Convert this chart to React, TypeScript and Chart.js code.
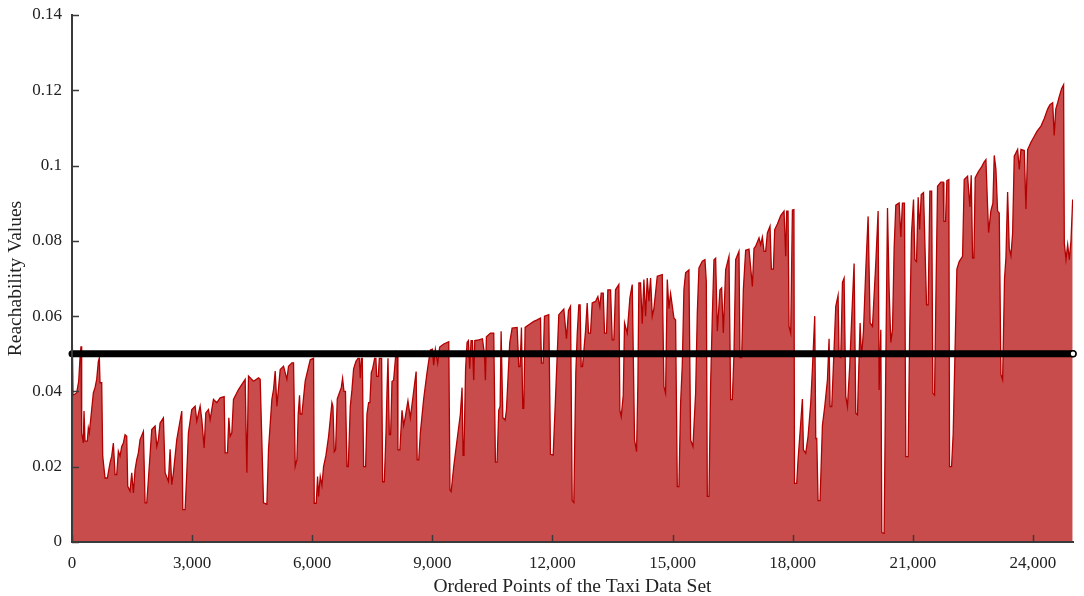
import React, { useEffect, useRef } from "react";
import { Chart, registerables } from "chart.js";

Chart.register(...registerables);

// Ordered point index (x) and reachability value (y)
const reachX = [
  0, 25, 117, 167, 200, 225, 242, 283, 300, 325, 383, 408, 433, 492, 533, 575, 617, 658, 683, 700,
  742, 767, 825, 883, 950, 992, 1033, 1075, 1117, 1158, 1200, 1242, 1283, 1325, 1367, 1392, 1450, 1492, 1533, 1575,
  1617, 1658, 1700, 1783, 1825, 1867, 1908, 1992, 2075, 2117, 2158, 2200, 2283, 2325, 2408, 2450, 2492, 2533, 2617, 2742,
  2767, 2825, 2867, 2908, 2992, 3075, 3117, 3200, 3242, 3300, 3342, 3408, 3450, 3533, 3617, 3700, 3800, 3825, 3883, 3917,
  3950, 3992, 4033, 4158, 4325, 4367, 4408, 4533, 4658, 4700, 4783, 4867, 4908, 4992, 5033, 5075, 5117, 5200, 5283, 5367,
  5408, 5492, 5533, 5575, 5617, 5650, 5683, 5700, 5742, 5825, 5950, 6033, 6050, 6100, 6133, 6158, 6200, 6242, 6283, 6342,
  6408, 6492, 6517, 6550, 6583, 6625, 6675, 6725, 6758, 6792, 6830, 6867, 6900, 6950, 6992, 7033, 7092, 7142, 7175, 7200,
  7225, 7250, 7283, 7333, 7367, 7408, 7440, 7475, 7508, 7558, 7590, 7608, 7650, 7675, 7733, 7758, 7800, 7842, 7867, 7892,
  7925, 7958, 7992, 8033, 8092, 8120, 8140, 8190, 8242, 8283, 8320, 8390, 8450, 8510, 8595, 8620, 8660, 8700, 8783, 8867,
  8950, 9000, 9033, 9075, 9133, 9183, 9283, 9410, 9440, 9470, 9533, 9617, 9700, 9742, 9767, 9790, 9830, 9867, 9900, 9933,
  9967, 10000, 10033, 10060, 10158, 10250, 10300, 10325, 10350, 10450, 10533, 10575, 10617, 10658, 10692, 10717, 10760, 10817, 10850, 10933,
  10992, 11117, 11158, 11192, 11225, 11258, 11283, 11317, 11408, 11533, 11617, 11700, 11725, 11767, 11800, 11908, 11950, 12017, 12075, 12158,
  12283, 12350, 12400, 12450, 12492, 12533, 12583, 12617, 12658, 12690, 12717, 12750, 12825, 12867, 12900, 12950, 12992, 13075, 13133, 13183,
  13217, 13267, 13300, 13350, 13383, 13450, 13492, 13533, 13575, 13658, 13683, 13717, 13767, 13800, 13867, 13933, 13992, 14050, 14100, 14133,
  14158, 14200, 14242, 14283, 14325, 14367, 14408, 14450, 14492, 14533, 14617, 14742, 14783, 14825, 14867, 14908, 14950, 15033, 15075, 15117,
  15158, 15200, 15242, 15283, 15325, 15408, 15450, 15508, 15575, 15617, 15658, 15742, 15808, 15842, 15867, 15908, 15950, 15992, 16033, 16075,
  16117, 16183, 16225, 16267, 16325, 16408, 16450, 16492, 16533, 16575, 16658, 16683, 16725, 16767, 16825, 16908, 16992, 17033, 17075, 17158,
  17200, 17242, 17283, 17325, 17367, 17433, 17467, 17517, 17550, 17617, 17700, 17783, 17825, 17850, 17883, 17908, 17950, 17992, 18030, 18045,
  18100, 18133, 18200, 18242, 18267, 18325, 18383, 18450, 18492, 18550, 18575, 18600, 18633, 18683, 18742, 18800, 18867, 18908, 18933, 18975,
  19017, 19075, 19133, 19158, 19200, 19242, 19283, 19325, 19367, 19425, 19467, 19533, 19575, 19617, 19683, 19717, 19767, 19825, 19883, 19933,
  19992, 20075, 20133, 20158, 20200, 20225, 20283, 20325, 20367, 20408, 20450, 20492, 20533, 20575, 20658, 20700, 20740, 20790, 20825, 20883,
  20920, 20967, 21017, 21050, 21092, 21133, 21170, 21210, 21267, 21342, 21383, 21425, 21470, 21500, 21542, 21580, 21617, 21700, 21758, 21775,
  21817, 21850, 21900, 21917, 21967, 22008, 22058, 22100, 22158, 22242, 22283, 22367, 22425, 22458, 22492, 22525, 22558, 22642, 22725, 22783,
  22825, 22867, 22892, 22950, 23000, 23033, 23075, 23117, 23158, 23200, 23242, 23290, 23325, 23367, 23408, 23450, 23492, 23533, 23617, 23658,
  23700, 23783, 23825, 23867, 23950, 24033, 24100, 24200, 24283, 24367, 24425, 24492, 24530, 24570, 24617, 24658, 24717, 24765, 24783, 24825,
  24867, 24908, 24950, 24992,
];

const reachY = [
  0.061, 0.039, 0.0396, 0.0427, 0.0489, 0.052, 0.029, 0.0263, 0.0348, 0.0268, 0.0268, 0.0303, 0.029, 0.0352, 0.0396, 0.041, 0.0432, 0.048, 0.0489, 0.0423,
  0.0423, 0.0228, 0.017, 0.017, 0.021, 0.0228, 0.0263, 0.0179, 0.0179, 0.0241, 0.0228, 0.0254, 0.0263, 0.0285, 0.0281, 0.0148, 0.0135, 0.0184, 0.013, 0.0192,
  0.0219, 0.0237, 0.0272, 0.0294, 0.0104, 0.0104, 0.0166, 0.0299, 0.0308, 0.0254, 0.0272, 0.0316, 0.033, 0.0184, 0.0161, 0.0246, 0.0152, 0.0184, 0.0272, 0.0348,
  0.0086, 0.0086, 0.0184, 0.029, 0.0352, 0.0361, 0.0321, 0.0361, 0.0325, 0.025, 0.0343, 0.0352, 0.0325, 0.0379, 0.037, 0.0383, 0.0386, 0.0237, 0.0237, 0.033,
  0.0281, 0.029, 0.0379, 0.0405, 0.0432, 0.0184, 0.0441, 0.0427, 0.0436, 0.0432, 0.0104, 0.01, 0.0246, 0.0379, 0.0405, 0.0454, 0.0361, 0.0458, 0.0467, 0.0432,
  0.0467, 0.0476, 0.0476, 0.0201, 0.0219, 0.034, 0.039, 0.034, 0.034, 0.0428, 0.0484, 0.0488, 0.0103, 0.0103, 0.0174, 0.0121, 0.0174, 0.015, 0.02, 0.023,
  0.028, 0.037, 0.036, 0.024, 0.0245, 0.038, 0.0395, 0.041, 0.0435, 0.04, 0.04, 0.02, 0.02, 0.036, 0.0404, 0.046, 0.048, 0.0488, 0.0488, 0.0435,
  0.0488, 0.0488, 0.02, 0.02, 0.034, 0.037, 0.037, 0.045, 0.046, 0.0488, 0.0488, 0.044, 0.044, 0.0488, 0.0488, 0.016, 0.016, 0.0289, 0.04, 0.0488,
  0.0285, 0.0285, 0.0426, 0.043, 0.0505, 0.05, 0.0245, 0.0245, 0.035, 0.031, 0.033, 0.0375, 0.033, 0.038, 0.0453, 0.0218, 0.0218, 0.029, 0.038, 0.045,
  0.051, 0.0512, 0.047, 0.0512, 0.0475, 0.0518, 0.0526, 0.0532, 0.0138, 0.0134, 0.02, 0.0271, 0.034, 0.041, 0.023, 0.024, 0.046, 0.053, 0.0535, 0.046,
  0.0535, 0.0535, 0.043, 0.0535, 0.0537, 0.054, 0.05, 0.043, 0.0545, 0.0555, 0.0555, 0.0212, 0.0212, 0.035, 0.036, 0.056, 0.033, 0.0324, 0.035, 0.053,
  0.0568, 0.057, 0.0466, 0.0466, 0.057, 0.0355, 0.0355, 0.057, 0.0577, 0.0586, 0.059, 0.0595, 0.0475, 0.0475, 0.06, 0.0604, 0.0233, 0.0231, 0.038, 0.0604,
  0.0619, 0.054, 0.0615, 0.0626, 0.011, 0.0105, 0.045, 0.055, 0.063, 0.063, 0.0466, 0.0466, 0.056, 0.0635, 0.0555, 0.0555, 0.0635, 0.0639, 0.0652, 0.0625,
  0.0661, 0.0661, 0.0555, 0.0555, 0.067, 0.067, 0.0537, 0.0537, 0.067, 0.0684, 0.035, 0.0333, 0.039, 0.0582, 0.0555, 0.0648, 0.0684, 0.0271, 0.024, 0.042,
  0.0688, 0.0688, 0.058, 0.0697, 0.06, 0.0701, 0.064, 0.0701, 0.06, 0.062, 0.0706, 0.071, 0.0413, 0.0395, 0.0697, 0.062, 0.066, 0.0595, 0.059, 0.0147,
  0.0147, 0.0369, 0.047, 0.067, 0.0715, 0.0723, 0.0271, 0.0254, 0.0395, 0.0608, 0.0728, 0.0746, 0.075, 0.0692, 0.0121, 0.0121, 0.042, 0.0599, 0.075, 0.0754,
  0.056, 0.067, 0.0675, 0.0555, 0.0723, 0.0759, 0.0378, 0.0378, 0.05, 0.075, 0.0772, 0.049, 0.049, 0.067, 0.0775, 0.0778, 0.0679, 0.078, 0.0786, 0.0808,
  0.079, 0.081, 0.0772, 0.0772, 0.0821, 0.0839, 0.0725, 0.0725, 0.083, 0.0845, 0.0867, 0.0879, 0.0759, 0.0879, 0.0879, 0.0573, 0.0555, 0.0882, 0.0883, 0.0156,
  0.0156, 0.0218, 0.0316, 0.038, 0.0245, 0.0236, 0.028, 0.0369, 0.046, 0.06, 0.0275, 0.0275, 0.011, 0.011, 0.031, 0.036, 0.043, 0.054, 0.036, 0.036,
  0.047, 0.0626, 0.0655, 0.0493, 0.049, 0.069, 0.0701, 0.0387, 0.036, 0.047, 0.058, 0.074, 0.0342, 0.0338, 0.0582, 0.049, 0.056, 0.0723, 0.0865, 0.0582,
  0.0573, 0.0741, 0.0879, 0.0404, 0.0564, 0.0025, 0.0023, 0.0475, 0.0887, 0.067, 0.053, 0.0564, 0.078, 0.0895, 0.0901, 0.081, 0.09, 0.09, 0.0227, 0.0227,
  0.055, 0.082, 0.091, 0.075, 0.0745, 0.0916, 0.083, 0.0923, 0.0928, 0.063, 0.063, 0.0932, 0.0932, 0.0395, 0.039, 0.068, 0.0945, 0.0956, 0.0956, 0.0852,
  0.0852, 0.096, 0.0963, 0.02, 0.02, 0.0289, 0.0528, 0.0725, 0.0745, 0.0759, 0.0963, 0.0972, 0.089, 0.0974, 0.0754, 0.0754, 0.0968, 0.0985, 0.0998, 0.101,
  0.1016, 0.089, 0.0822, 0.088, 0.09, 0.1027, 0.099, 0.0879, 0.0874, 0.0445, 0.0431, 0.07, 0.0755, 0.093, 0.078, 0.076, 0.082, 0.1025, 0.1043, 0.099,
  0.1043, 0.104, 0.0885, 0.1042, 0.1062, 0.1078, 0.1091, 0.1105, 0.1125, 0.115, 0.1162, 0.1167, 0.108, 0.115, 0.1167, 0.1184, 0.1205, 0.1215, 0.0794, 0.075,
  0.079, 0.075, 0.08, 0.091,
];

const thresholdX = [0, 25000];
const thresholdY = [0.05, 0.05];

const xTickValues = [0, 3000, 6000, 9000, 12000, 15000, 18000, 21000, 24000];
const yTickValues = [0, 0.02, 0.04, 0.06, 0.08, 0.1, 0.12, 0.14];

const FONT = "'Liberation Serif', 'Times New Roman', serif";
const AXIS = "#3a3a3a";
const TEXT = "#222222";

// Draws short inward tick marks on top of the plotted data, at the scales' own ticks
const innerTicks = {
  id: "innerTicks",
  afterDatasetsDraw(chart: any) {
    const ctx = chart.ctx;
    const xs = chart.scales.x;
    const ys = chart.scales.y;
    const area = chart.chartArea;
    ctx.save();
    ctx.strokeStyle = AXIS;
    ctx.lineWidth = 1.5;
    ctx.beginPath();
    xs.ticks.forEach((t: any) => {
      const px = Math.round(xs.getPixelForValue(t.value)) + 0.5;
      ctx.moveTo(px, area.bottom);
      ctx.lineTo(px, area.bottom - 7);
    });
    ys.ticks.forEach((t: any) => {
      const py = Math.round(ys.getPixelForValue(t.value)) + 0.5;
      ctx.moveTo(area.left, py);
      ctx.lineTo(area.left + 7, py);
    });
    ctx.stroke();
    // axis lines on top of the fill
    ctx.lineWidth = 2;
    ctx.beginPath();
    ctx.moveTo(area.left, area.top);
    ctx.lineTo(area.left, area.bottom);
    ctx.lineTo(area.right, area.bottom);
    ctx.stroke();
    ctx.restore();
  },
};

export default function App() {
  const ref = useRef<HTMLCanvasElement | null>(null);

  useEffect(() => {
    document.body.style.margin = "0";
    const canvas = ref.current;
    if (!canvas) return;

    const reachData = reachX.map((x, i) => ({ x, y: reachY[i] }));
    const thrData = thresholdX.map((x, i) => ({ x, y: thresholdY[i] }));

    const chart = new Chart(canvas, {
      type: "line",
      data: {
        datasets: [
          {
            label: "Threshold",
            data: thrData,
            borderColor: "#000000",
            borderWidth: 7,
            borderCapStyle: "round",
            pointRadius: [0, 3],
            pointBackgroundColor: "#ffffff",
            pointBorderColor: "#000000",
            pointBorderWidth: 1.5,
            fill: false,
            clip: 12,
            order: 0,
          } as any,
          {
            label: "Reachability",
            data: reachData,
            borderColor: "#b30000",
            borderWidth: 1.3,
            backgroundColor: "#c84c4c",
            fill: "origin",
            pointRadius: 0,
            tension: 0,
            order: 1,
          } as any,
        ],
      },
      plugins: [innerTicks],
      options: {
        responsive: false,
        animation: false,
        layout: { padding: { top: 15, right: 11, left: 0, bottom: 0 } },
        plugins: {
          legend: { display: false },
          tooltip: { enabled: false },
        },
        scales: {
          x: {
            type: "linear",
            min: 0,
            max: 25000,
            afterBuildTicks: (s: any) => {
              s.ticks = xTickValues.map((v) => ({ value: v }));
            },
            afterFit: (s: any) => {
              s.height = 54;
              s.paddingLeft = 0;
              s.paddingRight = 0;
            },
            ticks: {
              autoSkip: false,
              maxRotation: 0,
              padding: 11,
              color: TEXT,
              font: { family: FONT, size: 17 },
              callback: (v: any) => Number(v).toLocaleString("en-US"),
            },
            grid: {
              drawOnChartArea: false,
              drawTicks: false,
              color: AXIS,
            },
            border: { display: true, color: AXIS, width: 2 },
            title: {
              display: true,
              text: "Ordered Points of the Taxi Data Set",
              color: TEXT,
              font: { family: FONT, size: 19.5 },
              padding: { top: 0, bottom: -3 },
            },
          },
          y: {
            type: "linear",
            min: 0,
            max: 0.14,
            afterBuildTicks: (s: any) => {
              s.ticks = yTickValues.map((v) => ({ value: v }));
            },
            afterFit: (s: any) => {
              s.width = 72;
              s.paddingTop = 0;
              s.paddingBottom = 0;
            },
            ticks: {
              autoSkip: false,
              padding: 10,
              color: TEXT,
              font: { family: FONT, size: 17 },
              callback: (v: any) => String(Number(Number(v).toFixed(2))),
            },
            grid: {
              drawOnChartArea: false,
              drawTicks: false,
              color: AXIS,
            },
            border: { display: true, color: AXIS, width: 2 },
            title: {
              display: true,
              text: "Reachability Values",
              color: TEXT,
              font: { family: FONT, size: 19.5 },
              padding: { top: 4, bottom: 0 },
            },
          },
        },
      },
    });

    return () => chart.destroy();
  }, []);

  return (
    <div style={{ width: 1084, height: 596 }}>
      <canvas ref={ref} width={1084} height={596} style={{ display: "block" }} />
    </div>
  );
}
